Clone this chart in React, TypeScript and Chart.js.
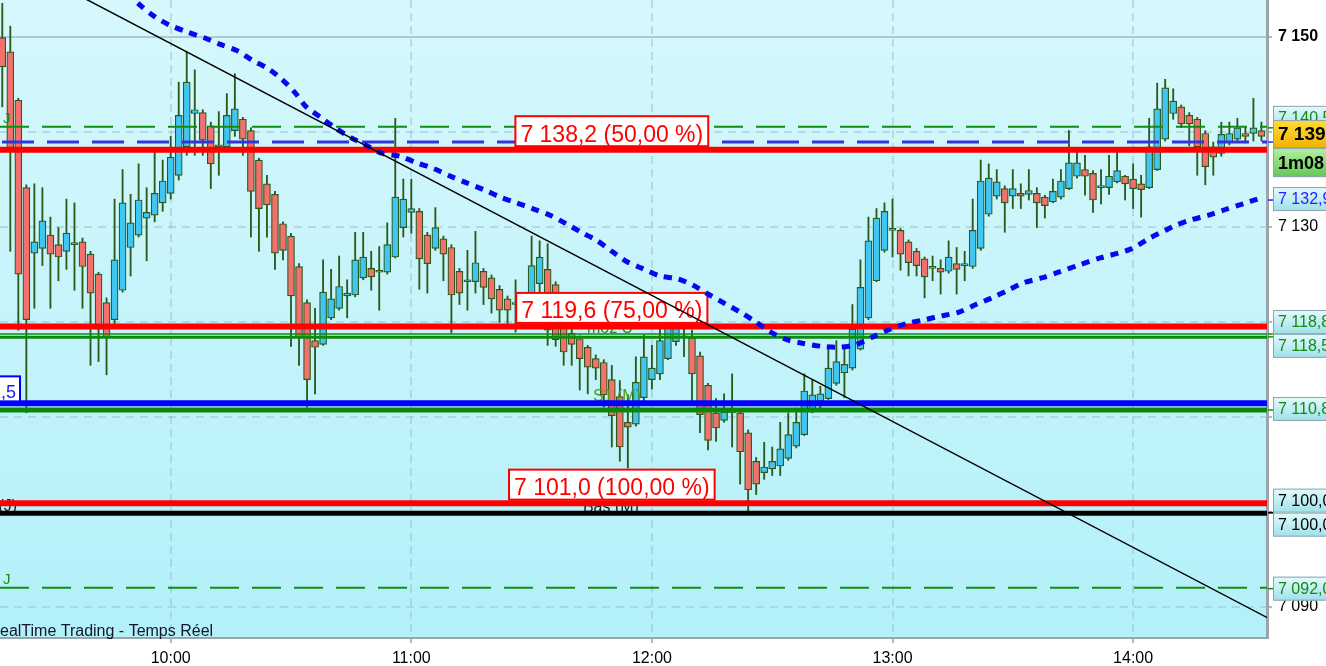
"use client";

import { useEffect, useRef } from "react";
import { Chart, registerables } from "chart.js";

Chart.register(...registerables);

const FONT = "'Liberation Sans', Arial, sans-serif";
Chart.defaults.font.family = FONT;

// 2-minute candles, the first one opens at 09:18
const firstCandleMinute = 558;
const candleStep = 2;

const opens = [
  7149.9, 7148.4, 7143.3, 7134.1, 7127.2, 7127.7, 7129.1, 7128.1, 7127.4, 7128.3,
  7128.4, 7127.1, 7125.0, 7122.0, 7120.2, 7123.3, 7127.8, 7129.1, 7130.9, 7131.2,
  7132.5, 7133.5, 7135.4, 7138.4, 7141.9, 7142.0, 7140.6, 7138.6, 7138.4, 7140.1,
  7141.3, 7140.1, 7137.0, 7134.5, 7133.4, 7130.3, 7129.0, 7125.8, 7122.0, 7118.0,
  7117.6, 7120.4, 7121.4, 7122.7, 7122.8, 7124.6, 7125.6, 7125.2, 7125.2, 7126.8,
  7129.9, 7131.5, 7131.6, 7129.1, 7127.7, 7128.7, 7127.8, 7125.3, 7124.2, 7124.2,
  7125.3, 7124.6, 7123.4, 7122.4, 7121.8, 7122.0, 7121.8, 7124.0, 7125.5, 7123.9,
  7119.5, 7118.8, 7118.2, 7117.3, 7116.1, 7115.7, 7113.9, 7112.1, 7109.4, 7109.2,
  7112.0, 7113.9, 7114.5, 7116.1, 7117.9, 7118.3, 7118.3, 7116.4, 7113.3, 7110.4,
  7109.6, 7110.4, 7110.4, 7108.3, 7105.3, 7104.1, 7104.5, 7104.8, 7105.6, 7106.9,
  7108.1, 7110.5, 7111.6, 7111.9, 7113.5, 7114.6, 7115.1, 7117.1, 7120.4, 7124.3,
  7127.5, 7129.6, 7129.6, 7128.4, 7127.4, 7126.6, 7125.6, 7125.6, 7125.3, 7126.1,
  7125.9, 7125.8, 7127.7, 7131.3, 7133.2, 7134.0, 7133.2, 7133.5, 7133.4, 7133.5,
  7133.1, 7132.6, 7133.1, 7134.0, 7135.3, 7136.0, 7135.6, 7134.1, 7134.1, 7134.7,
  7135.3, 7135.0, 7134.5, 7134.1, 7136.0, 7139.2, 7141.9, 7142.6, 7141.7, 7141.3,
  7139.8, 7138.4, 7137.7, 7138.8, 7139.2, 7139.8, 7139.8, 7140.1,
];

const highs = [
  7153.5, 7151.1, 7143.5, 7134.4, 7134.5, 7134.1, 7131.0, 7129.9, 7132.9, 7132.5,
  7128.8, 7127.4, 7125.2, 7122.5, 7132.9, 7136.0, 7133.4, 7136.6, 7134.1, 7137.9,
  7137.0, 7139.5, 7145.2, 7148.4, 7146.5, 7142.3, 7141.0, 7142.1, 7144.0, 7146.1,
  7141.5, 7140.4, 7137.2, 7135.4, 7133.7, 7130.5, 7129.3, 7126.1, 7122.3, 7121.4,
  7126.5, 7125.5, 7126.9, 7124.4, 7129.4, 7129.4, 7127.4, 7127.9, 7130.4, 7141.4,
  7135.0, 7135.0, 7131.9, 7129.4, 7132.0, 7129.0, 7128.1, 7125.6, 7127.5, 7129.5,
  7125.6, 7124.9, 7123.8, 7122.7, 7124.4, 7122.3, 7129.0, 7128.5, 7128.2, 7124.2,
  7120.4, 7120.0, 7118.5, 7117.5, 7116.5, 7116.0, 7115.4, 7113.8, 7112.3, 7116.3,
  7118.6, 7117.5, 7119.5, 7120.7, 7120.7, 7119.5, 7119.1, 7116.8, 7113.5, 7111.9,
  7112.4, 7114.5, 7110.7, 7108.6, 7105.7, 7107.3, 7106.8, 7109.4, 7110.4, 7110.9,
  7114.5, 7113.9, 7113.2, 7117.4, 7118.0, 7117.3, 7121.8, 7126.5, 7131.0, 7131.9,
  7132.5, 7132.9, 7129.8, 7128.6, 7127.7, 7126.8, 7126.9, 7126.5, 7128.5, 7127.8,
  7127.4, 7132.9, 7137.0, 7136.6, 7136.0, 7134.3, 7136.0, 7134.5, 7136.0, 7134.1,
  7133.3, 7135.0, 7136.0, 7140.1, 7137.9, 7137.5, 7135.9, 7136.0, 7137.5, 7137.9,
  7135.4, 7136.6, 7135.4, 7141.4, 7145.1, 7145.5, 7144.5, 7142.8, 7142.0, 7141.5,
  7140.1, 7138.9, 7141.0, 7141.0, 7141.4, 7140.5, 7143.5, 7141.0,
];

const lows = [
  7142.6, 7127.4, 7119.1, 7110.4, 7121.4, 7125.9, 7121.4, 7124.3, 7125.5, 7123.3,
  7121.4, 7115.4, 7115.8, 7114.4, 7119.8, 7123.1, 7124.8, 7128.9, 7126.4, 7130.5,
  7131.6, 7132.9, 7134.9, 7137.5, 7137.5, 7137.5, 7134.0, 7135.4, 7138.1, 7139.5,
  7137.5, 7128.9, 7127.4, 7128.9, 7125.5, 7126.5, 7117.4, 7115.4, 7111.0, 7112.4,
  7117.5, 7120.2, 7121.2, 7120.4, 7122.6, 7124.4, 7123.3, 7121.2, 7125.0, 7126.7,
  7128.9, 7129.3, 7123.4, 7123.0, 7127.5, 7124.3, 7118.8, 7121.8, 7121.2, 7123.0,
  7121.8, 7120.9, 7119.9, 7119.8, 7118.9, 7120.4, 7121.0, 7122.8, 7117.5, 7117.4,
  7115.4, 7115.4, 7112.8, 7112.4, 7113.9, 7111.0, 7106.8, 7105.3, 7104.6, 7109.0,
  7111.4, 7112.9, 7113.9, 7116.0, 7117.5, 7116.3, 7111.5, 7108.3, 7106.5, 7107.4,
  7109.4, 7106.8, 7102.9, 7100.0, 7101.8, 7103.4, 7103.8, 7103.8, 7105.4, 7106.7,
  7108.0, 7110.4, 7110.6, 7111.8, 7113.3, 7112.0, 7114.9, 7117.0, 7120.2, 7124.2,
  7127.3, 7126.8, 7125.4, 7124.8, 7124.8, 7122.5, 7124.3, 7122.9, 7125.1, 7122.9,
  7124.3, 7125.6, 7127.5, 7131.1, 7132.9, 7129.4, 7131.9, 7131.9, 7132.8, 7129.9,
  7130.9, 7132.5, 7132.9, 7133.9, 7135.1, 7133.3, 7131.5, 7132.4, 7133.4, 7134.6,
  7132.8, 7131.9, 7131.0, 7134.0, 7135.9, 7139.0, 7141.3, 7140.4, 7138.5, 7135.4,
  7134.4, 7135.4, 7137.4, 7138.6, 7139.0, 7138.8, 7139.0, 7139.0,
];

const closes = [
  7146.8, 7138.3, 7125.0, 7120.2, 7128.4, 7130.6, 7127.1, 7126.8, 7129.3, 7128.1,
  7125.8, 7123.0, 7119.2, 7118.4, 7126.5, 7132.5, 7130.4, 7132.8, 7131.5, 7133.5,
  7134.8, 7137.3, 7141.7, 7145.2, 7142.3, 7139.1, 7136.6, 7138.4, 7141.7, 7142.4,
  7139.2, 7133.7, 7131.9, 7132.3, 7127.2, 7127.5, 7122.7, 7118.4, 7113.9, 7117.3,
  7123.1, 7122.4, 7123.7, 7123.0, 7126.5, 7126.8, 7124.7, 7125.2, 7128.1, 7133.1,
  7132.9, 7131.9, 7126.6, 7126.1, 7129.9, 7127.1, 7122.8, 7123.0, 7124.2, 7126.2,
  7123.6, 7122.4, 7121.2, 7121.2, 7121.8, 7121.0, 7125.9, 7126.8, 7119.1, 7118.1,
  7116.8, 7117.6, 7116.1, 7115.2, 7115.1, 7112.3, 7110.1, 7106.8, 7108.9, 7113.6,
  7116.3, 7115.1, 7118.0, 7119.6, 7119.3, 7118.3, 7114.5, 7110.2, 7107.5, 7108.8,
  7110.5, 7110.4, 7106.3, 7102.3, 7102.9, 7104.7, 7105.3, 7106.6, 7108.1, 7109.4,
  7112.7, 7112.3, 7112.4, 7115.1, 7115.8, 7115.5, 7119.2, 7123.6, 7128.5, 7130.9,
  7131.6, 7129.6, 7127.1, 7126.2, 7125.9, 7124.7, 7125.6, 7125.2, 7126.8, 7125.5,
  7125.9, 7129.6, 7134.8, 7135.1, 7134.7, 7132.5, 7134.0, 7133.2, 7133.8, 7132.5,
  7132.2, 7133.7, 7134.8, 7136.7, 7136.7, 7135.3, 7132.8, 7134.1, 7135.3, 7135.9,
  7134.5, 7134.0, 7133.9, 7138.4, 7142.4, 7144.6, 7143.2, 7140.8, 7140.8, 7138.4,
  7136.3, 7137.3, 7139.7, 7139.8, 7140.4, 7139.5, 7140.4, 7139.5,
];

// moving average (blue dotted), read at candle positions
const maIndex = [
  15.5, 17.2, 19.0, 20.9, 23.0, 25.1, 27.1, 29.3, 31.2, 33.2, 35.0, 36.5, 37.9, 39.7,
  41.5, 43.4, 45.3, 47.4, 49.6, 51.7, 53.8, 55.9, 57.9, 60.0, 62.1, 64.1, 66.1, 68.3,
  70.3, 72.2, 74.2, 76.0, 77.9, 79.8, 82.0, 84.2, 86.2, 88.2, 90.1, 92.0, 93.9, 95.8,
  97.8, 99.9, 102.2, 104.4, 106.5, 108.6, 110.7, 112.8, 115.0, 117.1, 119.3, 121.4,
  123.4, 125.4, 127.4, 129.6, 131.7, 134.4, 136.9, 140.6, 143.1, 145.0, 146.2, 148.2,
  150.4, 152.5, 154.7, 156.5,
];
const maValue = [
  7154.6, 7153.3, 7152.1, 7151.2, 7150.5, 7149.9, 7149.2, 7148.5, 7147.5, 7146.6,
  7145.4, 7144.1, 7142.6, 7141.5, 7140.4, 7139.4, 7138.6, 7137.7, 7137.4, 7136.7,
  7136.1, 7135.3, 7134.6, 7133.9, 7133.1, 7132.5, 7131.9, 7131.2, 7130.3, 7129.4,
  7128.5, 7127.4, 7126.3, 7125.6, 7124.8, 7124.5, 7123.8, 7122.8, 7121.9, 7121.0,
  7120.0, 7118.9, 7118.1, 7117.7, 7117.4, 7117.3, 7117.6, 7118.4, 7119.2, 7119.8,
  7120.2, 7120.6, 7121.0, 7121.8, 7122.5, 7123.3, 7124.1, 7124.6, 7125.2, 7126.0,
  7126.7, 7127.6, 7128.8, 7129.6, 7130.1, 7130.7, 7131.2, 7131.8, 7132.4, 7132.9,
];

// falling trend line (black)
const trendMinutes = [570, 880];
const trendPrices = [7155.9, 7087.4];

const hourTicks = [600, 660, 720, 780, 840];
const timeMin = 557.43;
const timeMax = 873.39;
const priceMin = 7086.7;
const priceMax = 7153.85;

// horizontal levels
const levelPrices = [7140.5, 7139.0, 7138.2, 7119.6, 7118.8, 7118.5, 7111.5, 7110.8, 7101.0, 7100.0, 7092.0];
const levelStyles = [
  { color: "#128c12", width: 2, dash: [29, 13], offset: 0, shift: 0 },
  { color: "#3434da", width: 3, dash: [32, 13], offset: -2, shift: 1 },
  { color: "#ff0000", width: 6, dash: [], offset: 0, shift: 1 },
  { color: "#ff0000", width: 6, dash: [], offset: 0, shift: 1 },
  { color: "#0e8a0e", width: 1.5, dash: [], offset: 0, shift: 1 },
  { color: "#0e8a0e", width: 3, dash: [], offset: 0, shift: 1.5 },
  { color: "#0000ff", width: 6, dash: [], offset: 0, shift: 1 },
  { color: "#088708", width: 5, dash: [], offset: 0, shift: 1 },
  { color: "#ff0000", width: 6, dash: [], offset: 0, shift: 1 },
  { color: "#000000", width: 5, dash: [], offset: 0, shift: 1.5 },
  { color: "#128c12", width: 2, dash: [29, 13], offset: 0, shift: 0 },
];

const fiboPrices = [7138.2, 7119.6, 7101.0];
const fiboPercents = [50, 75, 100];
const fiboLabelMinute = 710;

// captions sitting on the levels (partly hidden by the lines)
const noteTexts = ["J", "J", "Bas (J)", "Bas (M)", "moz U", "S1 (M)"];
const noteMinutes = [558.2, 558.2, 561.7, 702.8, 703.8, 705.3];
const notePrices = [7140.9, 7092.4, 7100.1, 7100.0, 7118.8, 7111.6];
const noteStyles = [
  { color: "#1c8c1c", align: "left", size: 15 },
  { color: "#1c8c1c", align: "left", size: 15 },
  { color: "#202020", align: "right", size: 16 },
  { color: "#202020", align: "left", size: 16 },
  { color: "#2a8a2a", align: "left", size: 16 },
  { color: "#4f9a1c", align: "left", size: 16 },
];

// boxes on the price axis
const tagPrices = [7140.5, 7132.9, 7118.8, 7118.5, 7110.8, 7100.0, 7100.0, 7092.0];
const tagStyles = [
  { color: "#138a13", nudge: -9 },
  { color: "#1f1fff", nudge: 0 },
  { color: "#138a13", nudge: -11 },
  { color: "#138a13", nudge: 10 },
  { color: "#138a13", nudge: 0 },
  { color: "#000000", nudge: -11 },
  { color: "#000000", nudge: 13 },
  { color: "#138a13", nudge: 1 },
];
const lastPrice = 7139.0;
const countdown = "1m08";

const BLUE = "#3fc6f2";
const RED = "#f3706c";
const OUTLINE = "#2b5a1b";

const candleMinute = (i: number) => firstCandleMinute + candleStep * i;

function fmtPrice(v: number, dec = 1) {
  const [ip, fp] = v.toFixed(dec).split(".");
  const s = `${ip.slice(0, ip.length - 3)} ${ip.slice(-3)}`;
  return fp ? `${s},${fp}` : s;
}

function fmtTime(m: number) {
  return `${Math.floor(m / 60)}:${String(m % 60).padStart(2, "0")}`;
}

function drawLevels(chart: any) {
  const { ctx, chartArea: a } = chart;
  const xs = chart.scales.x;
  const ys = chart.scales.y;
  ctx.save();
  ctx.beginPath();
  ctx.rect(a.left, a.top, a.right - a.left, a.bottom - a.top);
  ctx.clip();

  ctx.textBaseline = "alphabetic";
  noteTexts.forEach((t, k) => {
    const st = noteStyles[k];
    ctx.font = `${st.size}px ${FONT}`;
    ctx.fillStyle = st.color;
    ctx.textAlign = st.align;
    ctx.fillText(t, xs.getPixelForValue(noteMinutes[k]), ys.getPixelForValue(notePrices[k]));
  });

  levelPrices.forEach((p, k) => {
    const st = levelStyles[k];
    const y = ys.getPixelForValue(p) + st.shift;
    ctx.strokeStyle = st.color;
    ctx.lineWidth = st.width;
    ctx.setLineDash(st.dash);
    ctx.lineDashOffset = st.offset;
    ctx.beginPath();
    ctx.moveTo(a.left, y);
    ctx.lineTo(a.right, y);
    ctx.stroke();
  });
  ctx.setLineDash([]);

  // fibonacci labels, on top of the lines
  ctx.font = `23px ${FONT}`;
  fiboPrices.forEach((p, k) => {
    const text = `${fmtPrice(p)} (${fiboPercents[k]},00 %)`;
    const y = ys.getPixelForValue(p);
    const w = ctx.measureText(text).width + 10;
    const cx = xs.getPixelForValue(fiboLabelMinute);
    const h = 30;
    const top = y - 2.5 - h;
    ctx.fillStyle = "#ffffff";
    ctx.fillRect(cx - w / 2, top, w, h);
    ctx.strokeStyle = "#ff0000";
    ctx.lineWidth = 2;
    ctx.strokeRect(cx - w / 2, top, w, h);
    ctx.fillStyle = "#ff0000";
    ctx.textAlign = "center";
    ctx.fillText(text, cx, y - 7);
  });

  // left tag of the blue level
  {
    const y = ys.getPixelForValue(levelPrices[6]);
    ctx.fillStyle = "#ffffff";
    ctx.fillRect(a.left - 20, y - 26, 40, 25);
    ctx.strokeStyle = "#0000ff";
    ctx.lineWidth = 2;
    ctx.strokeRect(a.left - 20, y - 26, 40, 25);
    ctx.font = `18px ${FONT}`;
    ctx.fillStyle = "#1a1aff";
    ctx.textAlign = "right";
    ctx.fillText(fmtPrice(levelPrices[6]), a.left + 16, y - 4);
  }
  ctx.restore();
}

function drawTag(ctx: any, top: number, h: number, text: string, color: string, font: string, c1: string, c2: string) {
  const left = 1273.5;
  const g = ctx.createLinearGradient(0, top, 0, top + h);
  g.addColorStop(0, c1);
  g.addColorStop(1, c2);
  ctx.fillStyle = g;
  ctx.fillRect(left, top, 70, h);
  ctx.strokeStyle = "#8ea4ac";
  ctx.lineWidth = 1;
  ctx.strokeRect(left, top + 0.5, 70, h - 1);
  ctx.font = `${font} ${FONT}`;
  ctx.fillStyle = color;
  ctx.textAlign = "left";
  ctx.textBaseline = "middle";
  ctx.fillText(text, 1278, top + h / 2 + 1);
}

const scenePlugin = {
  id: "scene",
  beforeDraw(chart: any) {
    const { ctx, chartArea: a, width, height } = chart;
    ctx.save();
    ctx.fillStyle = "#ffffff";
    ctx.fillRect(0, 0, width, height);
    const g = ctx.createLinearGradient(0, a.top, 0, a.bottom);
    g.addColorStop(0, "#d6f8fc");
    g.addColorStop(1, "#b3f0f9");
    ctx.fillStyle = g;
    ctx.fillRect(a.left, a.top, a.right - a.left, a.bottom - a.top);
    ctx.restore();
  },
  beforeDatasetDraw(chart: any, args: any) {
    if (args.index === 2) drawLevels(chart);
  },
  afterDraw(chart: any) {
    const { ctx, chartArea: a } = chart;
    const ys = chart.scales.y;
    ctx.save();

    // footer caption
    ctx.font = `16px ${FONT}`;
    ctx.fillStyle = "#15152c";
    ctx.textAlign = "left";
    ctx.textBaseline = "alphabetic";
    ctx.fillText("ProRealTime Trading - Temps Réel", a.left - ctx.measureText("ProR").width, a.bottom - 2);

    // coloured marks on the price axis
    const marks = [...tagPrices, lastPrice];
    const markColors = [...tagStyles.map((s) => s.color), "#2a2ad0"];
    marks.forEach((p, k) => {
      const y = ys.getPixelForValue(p) + 1;
      ctx.strokeStyle = markColors[k];
      ctx.lineWidth = 1.5;
      ctx.beginPath();
      ctx.moveTo(a.right + 1, y);
      ctx.lineTo(a.right + 7, y);
      ctx.stroke();
    });

    const plain = ["#e4fbfd", "#9fe0ea"];
    const first = ys.getPixelForValue(tagPrices[0]) + tagStyles[0].nudge;
    drawTag(ctx, first - 12, 24, fmtPrice(tagPrices[0]), tagStyles[0].color, "16px", plain[0], plain[1]);
    const py = ys.getPixelForValue(lastPrice) - 7;
    drawTag(ctx, py - 14, 28, fmtPrice(lastPrice), "#000000", "bold 19px", "#ffdc3a", "#f2b200");
    drawTag(ctx, py + 14, 29, countdown, "#000000", "bold 18px", "#b4f0a4", "#62c852");
    tagPrices.slice(1).forEach((p, j) => {
      const st = tagStyles[j + 1];
      const cy = ys.getPixelForValue(p) + st.nudge;
      drawTag(ctx, cy - 12, 24, fmtPrice(p), st.color, "16px", plain[0], plain[1]);
    });
    ctx.restore();
  },
};

export default function App() {
  const canvasRef = useRef<HTMLCanvasElement>(null);
  const chartRef = useRef<Chart | null>(null);

  useEffect(() => {
    document.body.style.margin = "0";
    document.body.style.overflow = "hidden";
    if (!canvasRef.current) return;

    chartRef.current?.destroy();
    chartRef.current = new Chart(canvasRef.current, {
      type: "bar",
      data: {
        datasets: [
          {
            type: "bar",
            label: "wicks",
            data: highs.map((h, i) => ({ x: candleMinute(i), y: [lows[i], h] })),
            backgroundColor: OUTLINE,
            barThickness: 1.2,
            grouped: false,
            order: 4,
          },
          {
            type: "bar",
            label: "bodies",
            data: opens.map((o, i) => ({ x: candleMinute(i), y: [o, closes[i]] })),
            backgroundColor: opens.map((o, i) => (closes[i] >= o ? BLUE : RED)),
            borderColor: OUTLINE,
            borderWidth: 1.2,
            borderSkipped: false,
            barThickness: 7,
            minBarLength: 2,
            grouped: false,
            order: 3,
          },
          {
            type: "line",
            label: "moyenne",
            data: maIndex.map((k, j) => ({ x: candleMinute(k), y: maValue[j] })),
            borderColor: "#0808ee",
            borderWidth: 5,
            borderDash: [8, 7],
            borderCapStyle: "butt",
            pointRadius: 0,
            tension: 0.3,
            fill: false,
            order: 2,
          },
          {
            type: "line",
            label: "tendance",
            data: trendMinutes.map((t, j) => ({ x: t, y: trendPrices[j] })),
            borderColor: "#000000",
            borderWidth: 1.5,
            pointRadius: 0,
            fill: false,
            order: 1,
          },
        ] as any,
      },
      options: {
        responsive: true,
        maintainAspectRatio: false,
        animation: false,
        events: [],
        layout: { padding: 0 },
        plugins: { legend: { display: false }, tooltip: { enabled: false } },
        scales: {
          x: {
            type: "linear",
            position: "bottom",
            min: timeMin,
            max: timeMax,
            offset: false,
            afterBuildTicks: (scale: any) => {
              scale.ticks = hourTicks.map((v) => ({ value: v }));
            },
            afterFit: (scale: any) => {
              scale.height = 28;
              scale.paddingLeft = 0;
              scale.paddingRight = 0;
            },
            grid: {
              color: "rgba(150,185,196,0.45)",
              lineWidth: 2,
              offset: false,
              tickLength: 5,
              tickColor: "#9aa4aa",
              tickWidth: 1.5,
            },
            border: { color: "#9aa4aa", width: 2, dash: [8, 5] },
            ticks: {
              autoSkip: false,
              maxRotation: 0,
              padding: 6,
              color: "#000000",
              font: { size: 16 },
              callback: (v: any) => fmtTime(Number(v)),
            },
          },
          y: {
            type: "linear",
            position: "right",
            min: priceMin,
            max: priceMax,
            afterFit: (scale: any) => {
              scale.width = 59;
              scale.paddingTop = 0;
              scale.paddingBottom = 0;
            },
            grid: {
              color: (c: any) => (c.tick && c.tick.value === 7150 ? "rgba(130,155,165,0.5)" : "rgba(150,185,196,0.45)"),
              lineWidth: 2,
              tickLength: 5,
              tickColor: "#9aa4aa",
              tickWidth: 1.5,
            },
            border: {
              color: "#9aa4aa",
              width: 3,
              dash: (c: any) => (c.tick && c.tick.value === 7150 ? [] : [8, 6]),
            },
            ticks: {
              stepSize: 10,
              includeBounds: false,
              padding: 6,
              color: "#000000",
              font: (c: any) => ({ size: 16, weight: c.tick && c.tick.value === 7150 ? "bold" : "normal" }),
              callback: (v: any) => fmtPrice(Number(v), 0),
            },
          },
        },
      } as any,
      plugins: [scenePlugin as any],
    });

    return () => {
      chartRef.current?.destroy();
      chartRef.current = null;
    };
  }, []);

  return (
    <div style={{ position: "relative", width: "1326px", height: "666px" }}>
      <canvas ref={canvasRef} />
    </div>
  );
}
